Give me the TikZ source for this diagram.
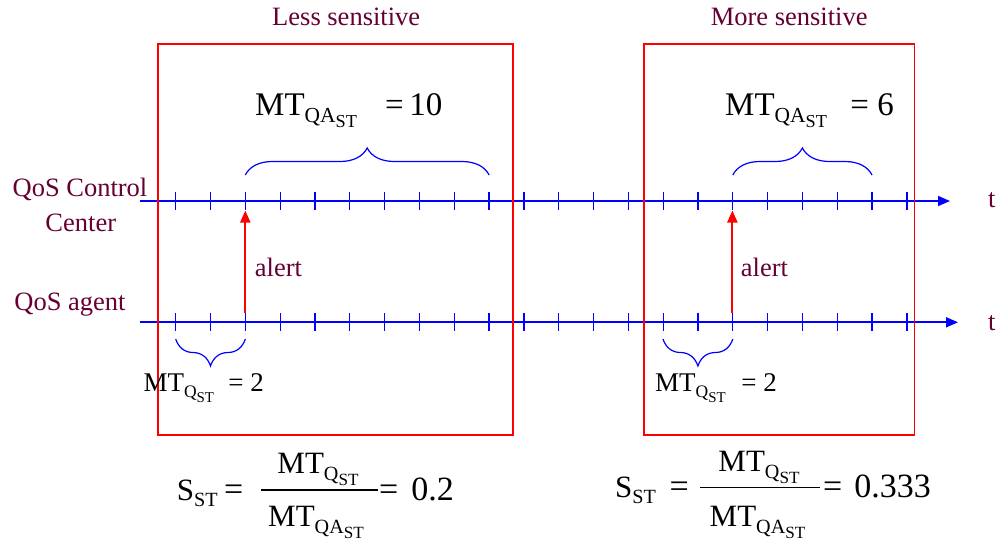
\documentclass[tikz,border=0pt]{standalone}
\usepackage{fontspec}
\setmainfont{Liberation Serif}
\newfontfamily\tnr{Liberation Serif}
\usepackage{graphicx}
\usetikzlibrary{decorations.pathreplacing,arrows.meta}
\definecolor{maroon}{RGB}{102,0,51}
\newcommand\subsub[2]{\raisebox{-0.23em}{\scalebox{0.65}{#1\raisebox{-0.25em}{\scalebox{0.85}{#2}}}}}
\newcommand\subone[1]{\raisebox{-0.2em}{\scalebox{0.65}{#1}}}
\begin{document}
\begin{tikzpicture}[x=1pt,y=-1pt,
  lbl/.style={text=maroon,font=\tnr\fontsize{26.5}{32}\selectfont,inner sep=0,anchor=base},
  axisline/.style={blue,line width=1.8pt,-{Triangle[length=12pt,width=10pt]}},
  tickmark/.style={blue,line width=1.3pt},
  brc/.style={blue,line width=1.2pt,decorate,decoration={brace,amplitude=27pt}},
  brcm/.style={blue,line width=1.2pt,decorate,decoration={brace,amplitude=27pt,mirror}},
  redbox/.style={red,line width=1.1pt},
  alertarrow/.style={red,line width=2pt,-{Triangle[length=12pt,width=10pt]}},
  fbig/.style={inner sep=0,font=\tnr\fontsize{33}{38}\selectfont},
  fmid/.style={inner sep=0,font=\tnr\fontsize{27}{32}\selectfont},
  fbot/.style={inner sep=0,font=\tnr\fontsize{31}{36}\selectfont},
  fval/.style={inner sep=0,font=\tnr\fontsize{34}{38}\selectfont}]
\useasboundingbox (0,0) rectangle (998,544);

% axes
\coordinate (ta) at (140,201);
\coordinate (tz) at (950,201);
\coordinate (ba) at (140,322.3);
\coordinate (bz) at (958,322.3);
\draw[axisline] (ta) -- (tz);
\draw[axisline] (ba) -- (bz);

% ticks
\foreach \i in {0,...,21}{
  \coordinate (tu\i) at ({175.7+34.82*\i},192);
  \coordinate (td\i) at ({175.7+34.82*\i},210);
  \coordinate (bu\i) at ({175.7+34.82*\i},313.3);
  \coordinate (bd\i) at ({175.7+34.82*\i},331);
  \draw[tickmark] (tu\i) -- (td\i);
  \draw[tickmark] (bu\i) -- (bd\i);
}

% red boxes
\coordinate (l1) at (158,44);
\coordinate (l2) at (513,435);
\coordinate (r1) at (644,44);
\coordinate (r2) at (914.3,435);
\draw[redbox] (l1) rectangle (l2);
\draw[redbox] (r1) rectangle (r2);

% alert arrows
\coordinate (a1s) at (245.3,313);
\coordinate (a1e) at (245.3,210.5);
\coordinate (a2s) at (732.4,313);
\coordinate (a2e) at (732.4,210.5);
\draw[alertarrow] (a1s) -- (a1e);
\draw[alertarrow] (a2s) -- (a2e);

% braces
\coordinate (b1a) at (245.3,175);
\coordinate (b1b) at (489.1,175);
\coordinate (b2a) at (732.8,175);
\coordinate (b2b) at (872,175);
\coordinate (b3a) at (175.7,339);
\coordinate (b3b) at (245.3,339);
\coordinate (b4a) at (663,339);
\coordinate (b4b) at (732.8,339);
\draw[brc] (b1a) -- (b1b);
\draw[brc] (b2a) -- (b2b);
\draw[brcm] (b3a) -- (b3b);
\draw[brcm] (b4a) -- (b4b);

% labels
\node[lbl] (less) at (346.2,25) {Less sensitive};
\node[lbl] (more) at (789.2,25) {More sensitive};
\node[lbl] (qcc1) at (80,196.7) {QoS Control};
\node[lbl] (qcc2) at (80.8,231.7) {Center};
\node[lbl] (qag) at (70,310) {QoS agent};
\node[lbl,anchor=base west] (al1) at (254.7,276) {alert};
\node[lbl,anchor=base west] (al2) at (740.7,276) {alert};
\node[lbl,anchor=base west] (t1) at (988,207) {t};
\node[lbl,anchor=base west] (t2) at (988,330) {t};

% top formulas
\node[fbig,anchor=base west] (mq1) at (255,115) {MT\subsub{QA}{ST}};
\node[fbig,anchor=base east] (mq1v) at (442.5,115) {=\,10};
\node[fbig,anchor=base west] (mq2) at (725,115) {MT\subsub{QA}{ST}};
\node[fbig,anchor=base east] (mq2v) at (894,115) {= 6};

% lower formulas
\node[fmid,anchor=base west] (mt1) at (143.3,391.7) {MT\subsub{Q}{ST}};
\node[fmid,anchor=base east] (mt1v) at (264,391.7) {= 2};
\node[fmid,anchor=base west] (mt2) at (655,391.7) {MT\subsub{Q}{ST}};
\node[fmid,anchor=base east] (mt2v) at (777,391.7) {= 2};

% bottom left formula
\node[fbot,anchor=base west] (sl) at (176.7,500) {S\subone{ST}};
\node[fval,anchor=base west] (sleq) at (224,500) {=};
\coordinate (fl1) at (261,490);
\coordinate (fl2) at (378,490);
\draw[line width=1.2pt] (fl1) -- (fl2);
\node[fbot,anchor=base] (sln) at (318,473.3) {MT\subsub{Q}{ST}};
\node[fbot,anchor=base] (sld) at (316,526.7) {MT\subsub{QA}{ST}};
\node[fval,anchor=base west] (sleq2) at (379,500) {=};
\node[fval,anchor=base east] (slv) at (454,500) {0.2};

% bottom right formula
\node[fbot,anchor=base west] (sr) at (615,497) {S\subone{ST}};
\node[fval,anchor=base west] (sreq) at (669.5,497) {=};
\coordinate (fr1) at (700,487.3);
\coordinate (fr2) at (820,487.3);
\draw[line width=1.2pt] (fr1) -- (fr2);
\node[fbot,anchor=base] (srn) at (759,471.7) {MT\subsub{Q}{ST}};
\node[fbot,anchor=base] (srd) at (757.5,526.7) {MT\subsub{QA}{ST}};
\node[fval,anchor=base west] (sreq2) at (823,497) {=};
\node[fval,anchor=base east] (srv) at (931,497) {0.333};
\end{tikzpicture}
\end{document}
